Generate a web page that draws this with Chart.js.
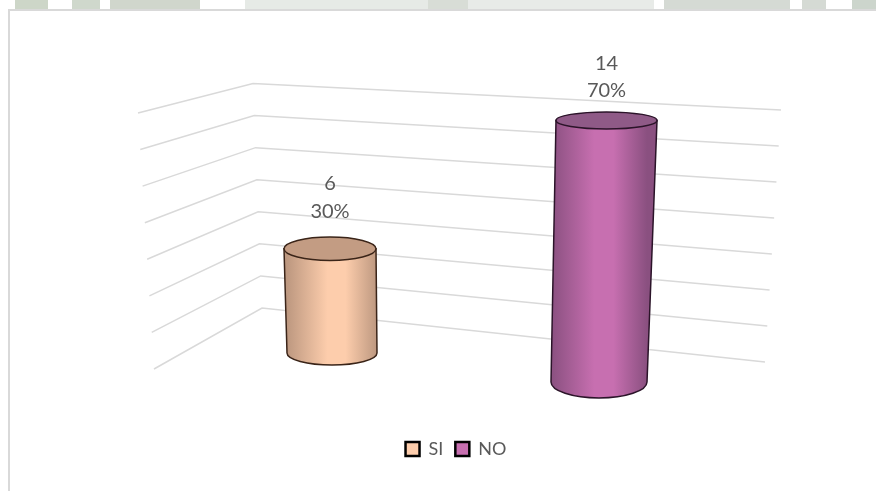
<!DOCTYPE html>
<html>
<head>
<meta charset="utf-8">
<style>
html, body { margin: 0; padding: 0; background: #fff; overflow: hidden; }
#strip {
    position: absolute; left: 0; top: 0; width: 876px; height: 9px;
    background: linear-gradient(90deg,
        #fff 0 15px, #cdd6c8 15px 48px, #fff 48px 72px, #cfd8cc 72px 100px, #fff 100px 110px,
        #d0d6cc 110px 200px, #fff 200px 245px, #e6eae6 245px 428px, #d8ddd6 428px 468px,
        #e8ebe8 468px 654px, #fff 654px 664px, #d5dad4 664px 790px, #fff 790px 802px,
        #d5dad4 802px 826px, #fff 826px 852px, #ccd5cc 852px 876px);
}
#card { position: absolute; left: 8px; top: 9px; width: 868px; height: 482px; border-left: 2px solid #d9d9d9; border-top: 2px solid #d9d9d9; box-sizing: border-box; }
#wrap { position: absolute; left: 0; top: 0; width: 876px; height: 491px; }
</style>
</head>
<body>
<div id="strip"></div>
<div id="card"></div>
<div id="wrap"><canvas id="myChart" width="876" height="491"></canvas></div>
<script src="https://cdn.jsdelivr.net/npm/chart.js"></script>
<script>
var categories = ['SI', 'NO'];
var values = [6, 14];
var percents = [30, 70];
var gridMax = 16;
var gridStep = 2;

var colors = ['#fdcdac', '#c76fb0'];
var edgeColors = ['#bd9880', '#8a5080'];
var topColors = ['#c39c83', '#8f5a87'];
var lineColors = ['#3a2418', '#2b1429'];

// each bar sits at its own depth in the 3D box
var barViews = [
    {lift: -29, stretch: 0.93, topRy: 11.7, baseRy: 12, topDx: -1, baseDx: 1, topW: 46, baseW: 45, valueUp: 65, pctUp: 37},
    {lift: 0, stretch: 1, topRy: 8.5, baseRy: 16, topDx: 3.5, baseDx: -4, topW: 50.5, baseW: 48, valueUp: 57, pctUp: 30}
];

// back wall lines, [x, y] of top line and bottom line
var wall = {
    left: [[138, 113], [154, 369]],
    corner: [[253, 83.5], [262, 308]],
    right: [[781, 110], [765, 362]]
};

function mix(a, b, f) {
    return [a[0] + (b[0] - a[0]) * f, a[1] + (b[1] - a[1]) * f];
}

var box3d = {
    id: 'box3d',
    afterLayout: function (chart) {
        // legend is centred on the card, not on the plot
        var h = chart.legend.height;
        chart.legend.left = 36;
        chart.legend.right = 876;
        chart.legend.top = 448 - h / 2;
        chart.legend.bottom = 448 + h / 2;
    },
    beforeDatasetsDraw: function (chart) {
        var c = chart.ctx, y = chart.scales.y;
        var y1 = y.getPixelForValue(gridMax), y2 = y.getPixelForValue(gridStep);
        c.save();
        c.strokeStyle = '#d9d9d9';
        c.lineWidth = 1.5;
        y.ticks.forEach(function (t) {
            if (t.value <= 0) return;
            var f = (y.getPixelForValue(t.value) - y1) / (y2 - y1);
            var a = mix(wall.left[0], wall.left[1], f);
            var b = mix(wall.corner[0], wall.corner[1], f);
            var d = mix(wall.right[0], wall.right[1], f);
            c.beginPath();
            c.moveTo(a[0], a[1]);
            c.lineTo(b[0], b[1]);
            c.lineTo(d[0], d[1]);
            c.stroke();
        });
        c.restore();
    },
    beforeDatasetDraw: function (chart, args) {
        var i = args.index, bar = args.meta.data[i], v = barViews[i], c = chart.ctx;
        var baseY = bar.base + v.lift;
        var topY = baseY - (bar.base - bar.y) * v.stretch;
        var tx = bar.x + v.topDx, bx = bar.x + v.baseDx;

        c.save();
        var g = c.createLinearGradient(bx - v.baseW, 0, bx + v.baseW, 0);
        g.addColorStop(0, edgeColors[i]);
        g.addColorStop(0.45, colors[i]);
        g.addColorStop(0.65, colors[i]);
        g.addColorStop(1, edgeColors[i]);

        c.beginPath();
        c.moveTo(tx - v.topW, topY);
        c.lineTo(bx - v.baseW, baseY);
        c.ellipse(bx, baseY, v.baseW, v.baseRy, 0, Math.PI, 0, true);
        c.lineTo(tx + v.topW, topY);
        c.closePath();
        c.fillStyle = g;
        c.fill();
        c.strokeStyle = lineColors[i];
        c.lineWidth = 1.5;
        c.stroke();

        c.beginPath();
        c.ellipse(tx, topY, v.topW, v.topRy, 0, 0, Math.PI * 2);
        c.fillStyle = topColors[i];
        c.fill();
        c.stroke();

        c.fillStyle = '#595959';
        c.font = '20px Lato';
        c.textAlign = 'center';
        c.textBaseline = 'middle';
        c.fillText(values[i], tx, topY - v.valueUp);
        c.fillText(percents[i] + '%', tx, topY - v.pctUp);
        c.restore();
        return false;
    }
};

var ctx = document.getElementById('myChart').getContext('2d');
var myChart = new Chart(ctx, {
    type: 'bar',
    data: {
        labels: categories,
        datasets: categories.map(function (name, i) {
            return {
                label: name,
                data: categories.map(function (n, j) { return j === i ? values[i] : null; }),
                backgroundColor: colors[i],
                borderColor: '#000000',
                borderWidth: 2.5,
                barPercentage: 0.35,
                categoryPercentage: 1
            };
        })
    },
    plugins: [box3d],
    options: {
        responsive: false,
        animation: false,
        layout: {padding: {left: 195, right: 137, top: 83, bottom: 69}},
        scales: {
            x: {display: false, stacked: true},
            y: {
                display: false,
                min: 0,
                max: gridMax,
                ticks: {stepSize: gridStep}
            }
        },
        plugins: {
            title: {display: false},
            tooltip: {enabled: false},
            legend: {
                position: 'bottom',
                labels: {
                    boxWidth: 14,
                    boxHeight: 14,
                    padding: 12,
                    color: '#595959',
                    font: {family: 'Lato', size: 18}
                }
            }
        }
    }
});
</script>
</body>
</html>
